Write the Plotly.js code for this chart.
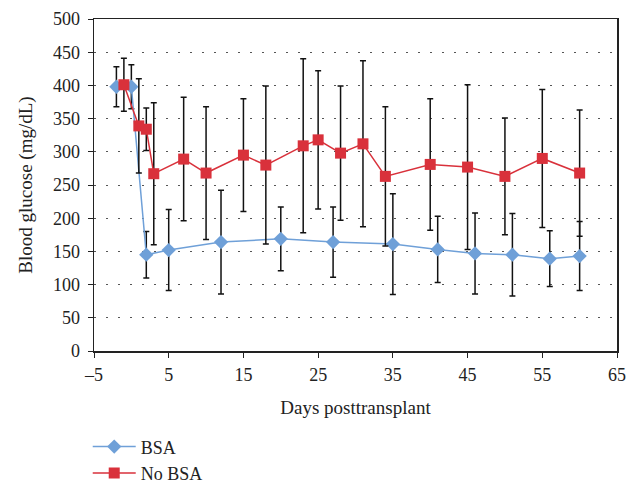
<!DOCTYPE html>
<html>
<head>
<meta charset="utf-8">
<script src="https://cdn.plot.ly/plotly-3.0.1.min.js"></script>
<style>html,body{margin:0;padding:0;background:#fff;}#chart{width:637px;height:483px;}</style>
</head>
<body>
<div id="chart"></div>
<script>
const bsaDays = [-2, 0, 2, 5, 12, 20, 27, 35, 41, 46, 51, 56, 60];
const bsaGlucose = [398, 398, 145, 152, 164, 169, 164, 161, 153, 147, 145, 139, 143];
const bsaError = [30, 33, 35, 61, 78, 48, 53, 76, 50, 61, 62, 42, 52];

const noBsaDays = [-1, 1, 2, 3, 7, 10, 15, 18, 23, 25, 28, 31, 34, 40, 45, 50, 55, 60];
const noBsaGlucose = [401, 339, 334, 267, 289, 268, 295, 280, 309, 318, 298, 312, 263, 281, 277, 263, 290, 268];
const noBsaError = [40, 71, 32, 107, 93, 100, 85, 119, 131, 104, 101, 125, 105, 99, 124, 88, 104, 95];

const seriesNames = ["BSA", "No BSA"];
const yTicks = [0, 50, 100, 150, 200, 250, 300, 350, 400, 450, 500];
const xTicks = [-5, 5, 15, 25, 35, 45, 55, 65];

const font = "Liberation Serif, Times New Roman, serif";

const traces = [
  {
    x: bsaDays, y: bsaGlucose, name: seriesNames[0], type: "scatter", mode: "lines+markers",
    line: {color: "#6FA0D8", width: 1.5},
    marker: {symbol: "diamond", size: 11, color: "#6FA0D8"},
    error_y: {type: "data", array: bsaError, visible: true, color: "#111", thickness: 1.5, width: 3}
  },
  {
    x: noBsaDays, y: noBsaGlucose, name: seriesNames[1], type: "scatter", mode: "lines+markers",
    line: {color: "#D9313B", width: 1.5},
    marker: {symbol: "square", size: 11, color: "#D9313B"},
    error_y: {type: "data", array: noBsaError, visible: true, color: "#111", thickness: 1.5, width: 3}
  }
];

const layout = {
  width: 637, height: 483,
  margin: {l: 94, r: 20, t: 19, b: 132, autoexpand: false},
  paper_bgcolor: "#fff", plot_bgcolor: "#fff",
  font: {family: font, size: 18, color: "#222"},
  showlegend: true,
  legend: {x: -0.012, y: -0.233, xanchor: "left", yanchor: "top", orientation: "v",
           traceorder: "normal",
           font: {family: font, size: 18, color: "#222"}, itemwidth: 43},
  xaxis: {
    range: [-5, 65], tickvals: xTicks, ticktext: xTicks.map(v => v < 0 ? "\u2013" + Math.abs(v) : String(v)),
    showgrid: false, zeroline: false,
    showline: true, linecolor: "#222", linewidth: 1.5, mirror: true,
    ticks: "outside", ticklen: 5, tickcolor: "#222", ticklabelstandoff: 2,
    tickfont: {family: font, size: 18, color: "#222"},
    title: {text: "Days posttransplant", font: {family: font, size: 19, color: "#222"}, standoff: 16}
  },
  yaxis: {
    range: [0, 500], tickvals: yTicks,
    showgrid: true, gridcolor: "#555", gridwidth: 1, griddash: "2px,10px",
    zeroline: false,
    showline: true, linecolor: "#222", linewidth: 1.5, mirror: true,
    ticks: "outside", ticklen: 5, tickcolor: "#222", ticklabelstandoff: 4,
    tickfont: {family: font, size: 18, color: "#222"},
    title: {text: "Blood glucose (mg/dL)", font: {family: font, size: 19, color: "#222"}, standoff: 15}
  }
};

Plotly.newPlot("chart", traces, layout, {displayModeBar: false, staticPlot: true});
</script>
</body>
</html>
